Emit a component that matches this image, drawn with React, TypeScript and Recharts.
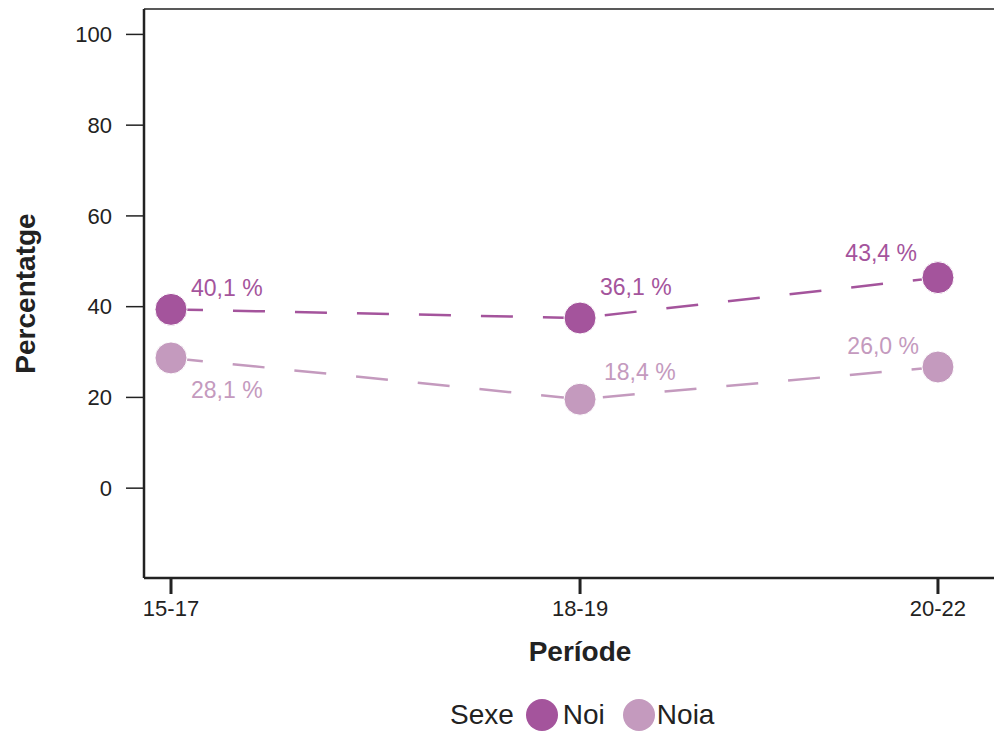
import React from 'react';
import { LineChart, Line, XAxis, YAxis, LabelList, Legend, ReferenceLine } from 'recharts';

const categories = ['15-17', '18-19', '20-22'];
// position of each period along the x axis (the original spacing is uneven)
const categoryPos = [0, 1, 1.875];
const noiValues = [39.4, 37.5, 46.4];
const noiaValues = [28.7, 19.6, 26.7];
const noiLabels = ['40,1 %', '36,1 %', '43,4 %'];
const noiaLabels = ['28,1 %', '18,4 %', '26,0 %'];
const yTicks = [0, 20, 40, 60, 80, 100];

const NOI = '#A4549C';
const NOIA = '#C49ABE';
const INK = '#222';
const FONT = '"Liberation Sans", Arial, Helvetica, sans-serif';

const data = categories.map((name, i) => ({
  name,
  pos: categoryPos[i],
  noi: noiValues[i],
  noia: noiaValues[i],
}));

// label placement around each dot: [anchor, dx, dy]
const noiPlace: [string, number, number][] = [['start', 20, -21], ['start', 20, -31], ['end', -21, -25]];
const noiaPlace: [string, number, number][] = [['start', 20, 32], ['start', 24, -27], ['end', -19, -21]];

const makeLabel = (texts: string[], place: [string, number, number][], color: string) => (props: any) => {
  const { x, y, index } = props;
  const [anchor, dx, dy] = place[index];
  return (
    <text
      x={x + dx}
      y={y + dy}
      textAnchor={anchor as any}
      dominantBaseline="central"
      fill={color}
      fontSize={23}
      fontFamily={FONT}
    >
      {texts[index]}
    </text>
  );
};

const LegendContent = () => (
  <div style={{ display: 'flex', alignItems: 'center', height: 32, marginTop: 21, fontFamily: FONT, fontSize: 28, color: INK }}>
    <span style={{ marginRight: 12 }}>Sexe</span>
    <span style={{ width: 32, height: 32, borderRadius: 16, background: NOI, marginRight: 5 }} />
    <span style={{ marginRight: 18 }}>Noi</span>
    <span style={{ width: 32, height: 32, borderRadius: 16, background: NOIA, marginRight: 2 }} />
    <span>Noia</span>
  </div>
);

const App = () => {
  return (
    <div style={{ position: 'absolute', left: 0, top: 0, width: 994, height: 731, background: '#fff' }}>
      <LineChart width={994} height={731} data={data} margin={{ top: 9, right: 0, bottom: 0, left: 0 }}>
        <XAxis
          dataKey="pos"
          type="number"
          domain={[-0.066, 2.012]}
          ticks={categoryPos}
          tickFormatter={(v: number) => categories[categoryPos.indexOf(v)]}
          height={100}
          stroke={INK}
          strokeWidth={2.5}
          tickSize={16}
          tickMargin={6}
          tickLine={{ stroke: INK, strokeWidth: 3 }}
          tick={{ fill: INK, fontSize: 22, fontFamily: FONT }}
          label={{
            content: (p: any) => {
              const vb = p.viewBox;
              return (
                <text
                  x={vb.x + vb.width / 2 + 11}
                  y={vb.y + 73}
                  textAnchor="middle"
                  dominantBaseline="central"
                  fill={INK}
                  fontSize={28}
                  fontWeight="bold"
                  fontFamily={FONT}
                >
                  Període
                </text>
              );
            },
          }}
        />
        <YAxis
          type="number"
          domain={[-19.8, 105.6]}
          ticks={yTicks}
          width={144}
          stroke={INK}
          strokeWidth={2.5}
          tickSize={18}
          tickMargin={14}
          tickLine={{ stroke: INK, strokeWidth: 1.5 }}
          tick={{ fill: INK, fontSize: 22, fontFamily: FONT }}
          label={{
            content: (p: any) => {
              const vb = p.viewBox;
              const cy = vb.y + vb.height / 2;
              return (
                <text
                  x={25}
                  y={cy}
                  transform={`rotate(-90, 25, ${cy})`}
                  textAnchor="middle"
                  dominantBaseline="central"
                  fill={INK}
                  fontSize={28}
                  fontWeight="bold"
                  fontFamily={FONT}
                >
                  Percentatge
                </text>
              );
            },
          }}
        />
        <ReferenceLine y={105.6} stroke={INK} strokeWidth={1.5} />
        <Legend verticalAlign="bottom" height={53} content={<LegendContent />} wrapperStyle={{ left: 450, width: 330 }} />
        <Line
          dataKey="noi"
          name="Noi"
          stroke={NOI}
          strokeWidth={2.5}
          strokeDasharray="32 30"
          dot={{ r: 16, fill: NOI, stroke: '#fff', strokeWidth: 1, strokeDasharray: '0' }}
          activeDot={false}
          isAnimationActive={false}
        >
          <LabelList dataKey="noi" content={makeLabel(noiLabels, noiPlace, NOI)} />
        </Line>
        <Line
          dataKey="noia"
          name="Noia"
          stroke={NOIA}
          strokeWidth={2.5}
          strokeDasharray="32 30"
          dot={{ r: 16, fill: NOIA, stroke: '#fff', strokeWidth: 1, strokeDasharray: '0' }}
          activeDot={false}
          isAnimationActive={false}
        >
          <LabelList dataKey="noia" content={makeLabel(noiaLabels, noiaPlace, NOIA)} />
        </Line>
      </LineChart>
    </div>
  );
};

export default App;
